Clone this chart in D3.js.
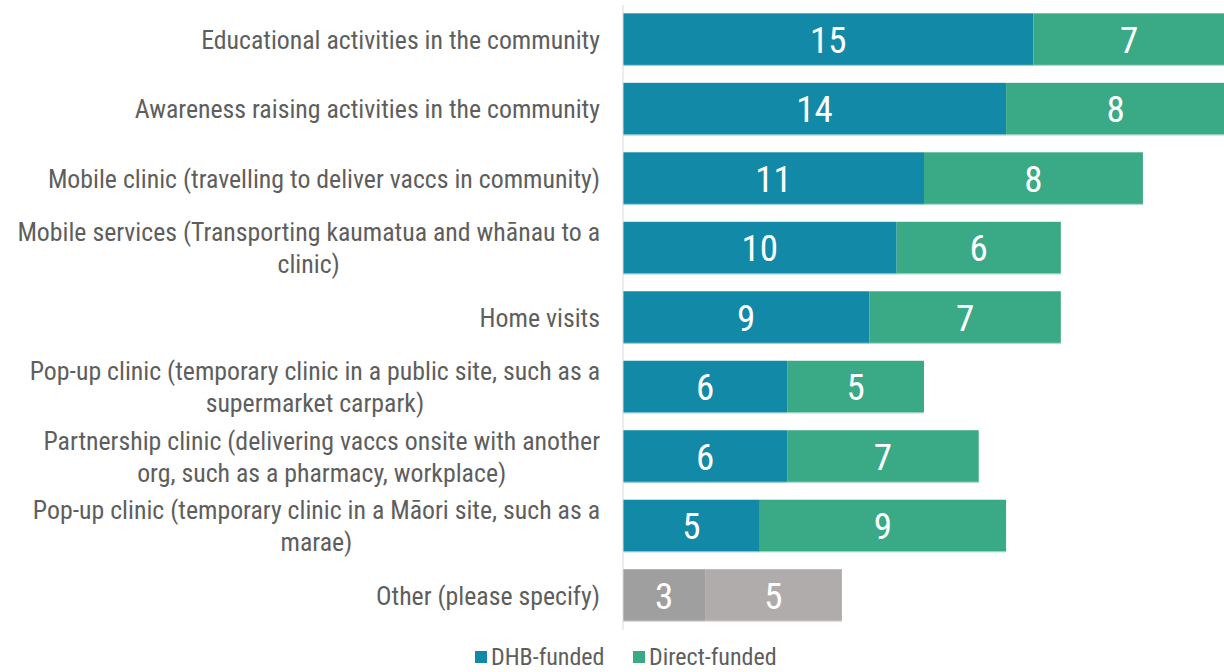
<!DOCTYPE html>
<html>
<head>
<meta charset="utf-8">
<script src="https://cdn.jsdelivr.net/npm/d3@7"></script>
<style>
  body { margin: 0; background: #fff; }
  svg text { font-family: "Liberation Sans Narrow", "Arial Narrow", "Roboto Condensed", sans-serif; }
</style>
</head>
<body>
<div id="chart"></div>
<script>
const categories = [
  'Educational activities in the community',
  'Awareness raising activities in the community',
  'Mobile clinic (travelling to deliver vaccs in community)',
  'Mobile services (Transporting kaumatua and whānau to a|clinic)',
  'Home visits',
  'Pop-up clinic (temporary clinic in a public site, such as a|supermarket carpark)',
  'Partnership clinic (delivering vaccs onsite with another|org, such as a pharmacy, workplace)',
  'Pop-up clinic (temporary clinic in a Māori site, such as a|marae)',
  'Other (please specify)'
];
const dhbFunded = [15, 14, 11, 10, 9, 6, 6, 5, 3];
const directFunded = [7, 8, 8, 6, 7, 5, 7, 9, 5];
const seriesNames = ['DHB-funded', 'Direct-funded'];

const colors = ['#1289a7', '#3aa985'];
const otherColors = ['#a09f9f', '#b0acab'];

const W = 1224, H = 672;
const margin = {left: 623, right: 0, top: 5, bottom: 42};
const width = W - margin.left - margin.right;
const height = H - margin.top - margin.bottom;

const svg = d3.select('#chart').append('svg').attr('width', W).attr('height', H);
const g = svg.append('g').attr('transform', `translate(${margin.left}, ${margin.top})`);

const x = d3.scaleLinear().domain([0, 22]).range([0, 602]);
const y = d3.scaleBand().domain(categories).range([0, height]).paddingInner(0.245).paddingOuter(0.12);

const rows = categories.map((c, i) => ({cat: c, vals: [dhbFunded[i], directFunded[i]], other: c.startsWith('Other')}));

const row = g.selectAll('.row').data(rows).enter().append('g')
  .attr('class', 'row')
  .attr('transform', d => `translate(0, ${y(d.cat)})`);

row.each(function(d) {
  const sel = d3.select(this);
  let acc = 0;
  d.vals.forEach((v, k) => {
    const x0 = acc;
    acc += v;
    sel.append('rect')
      .attr('x', x(x0)).attr('y', 0)
      .attr('width', x(acc) - x(x0)).attr('height', y.bandwidth())
      .attr('fill', d.other ? otherColors[k] : colors[k]);
    sel.append('rect')
      .attr('x', x(x0)).attr('y', y.bandwidth() - 1)
      .attr('width', x(acc) - x(x0)).attr('height', 1)
      .attr('fill', '#ffffff').attr('opacity', 0.6);
    sel.append('text')
      .attr('x', (x(x0) + x(acc)) / 2)
      .attr('y', y.bandwidth() / 2)
      .attr('dy', '0.36em')
      .attr('text-anchor', 'middle')
      .attr('fill', '#fff')
      .attr('font-size', 37)
      .text(v);
  });
});

// axis line
g.append('line').attr('x1', 0).attr('x2', 0).attr('y1', 0).attr('y2', height)
  .attr('stroke', '#d9d9d9').attr('stroke-width', 1);

// category labels
const labels = g.selectAll('.cat').data(rows).enter().append('text')
  .attr('class', 'cat')
  .attr('fill', '#5e5e5e')
  .attr('font-size', 25.8);

labels.each(function(d) {
  const lines = d.cat.split('|');
  const t = d3.select(this);
  const cy = y(d.cat) + y.bandwidth() / 2;
  const lh = 32;
  lines.forEach((ln, i) => {
    t.append('tspan')
      .attr('x', -23)
      .attr('text-anchor', lines.length > 1 ? 'middle' : 'end')
      .attr('y', cy + (i - (lines.length - 1) / 2) * lh)
      .attr('dy', '0.36em')
      .text(ln);
  });
});

// wrapped labels: lines centred on the widest one, block right-aligned
labels.each(function(d) {
  const lines = d.cat.split('|');
  if (lines.length < 2) return;
  const spans = d3.select(this).selectAll('tspan');
  let maxW = 0;
  spans.each(function() { maxW = Math.max(maxW, this.getComputedTextLength()); });
  spans.attr('x', -23 - maxW / 2);
});

// legend
const legend = svg.append('g').attr('transform', `translate(0, ${H - 7})`);
const legX = [475, 633];
seriesNames.forEach((n, i) => {
  legend.append('rect').attr('x', legX[i]).attr('y', -14).attr('width', 12).attr('height', 12)
    .attr('fill', colors[i]);
  legend.append('text').attr('x', legX[i] + 16).attr('y', 0)
    .attr('fill', '#5e5e5e').attr('font-size', 24).text(n);
});
</script>
</body>
</html>
